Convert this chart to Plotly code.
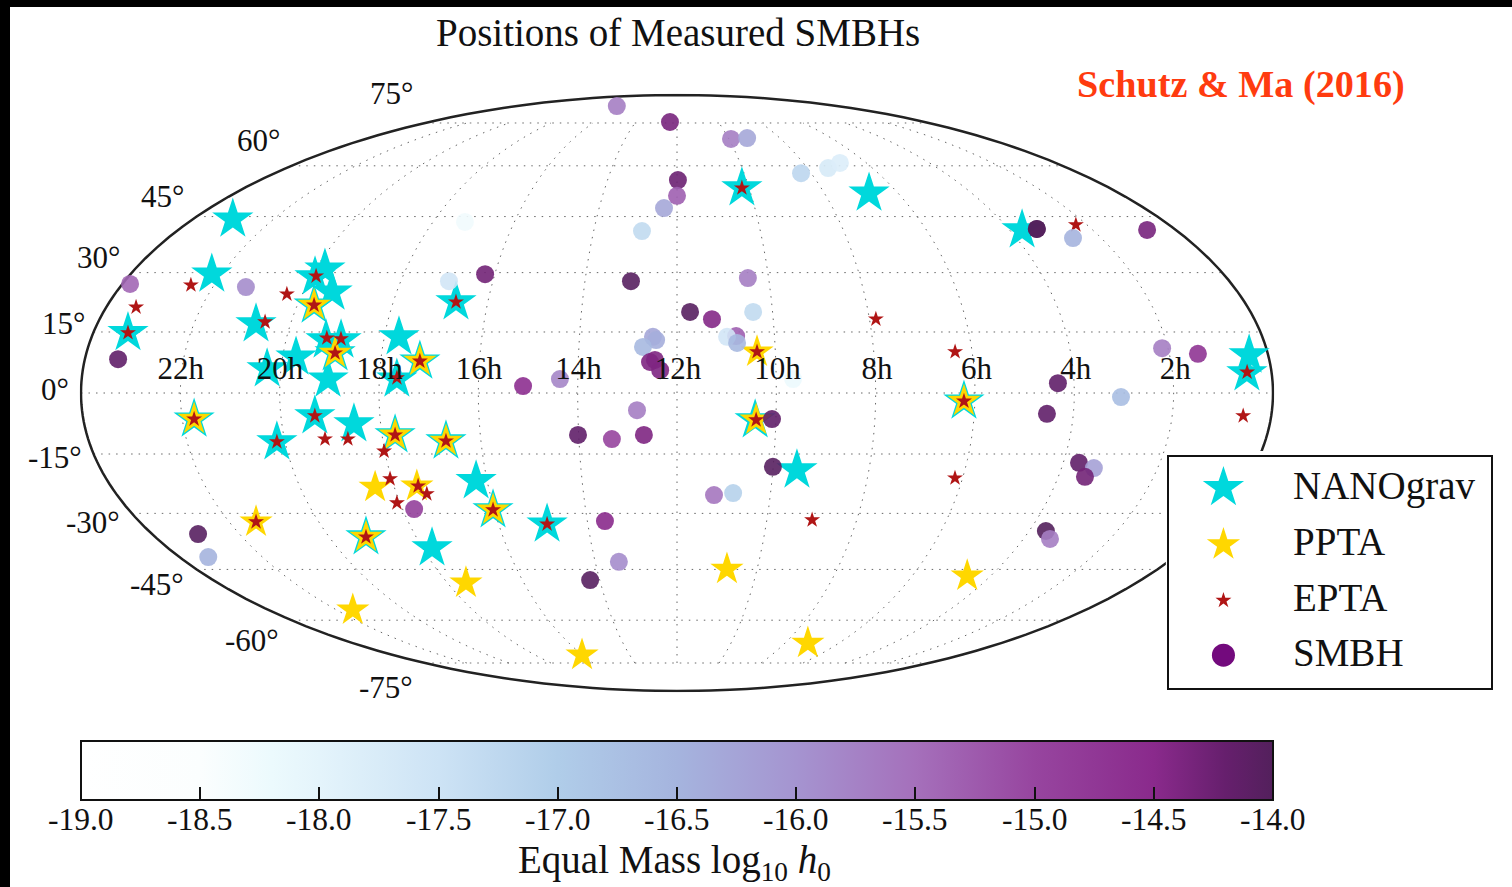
import plotly.graph_objects as go

# ---- catalogue positions (longitude = 15 * (12h - RA), latitude = dec), degrees ----
nano_lon = [-165.2,-153.2,-169.3,-130.7,-124.2,-115.9,-118.7,-116.9,-110.7,-114.7,-107.7,-103.1,
            -104.2,-105.5,-109.7,-98.1,-85.5,-78.1,-84.7,-70.1,-146.4,-122.5,-86.0,-70.7,
            -107.3,-86.6,-63.5,-60.4,-43.7,23.7,37.5,27.0,78.2,124.5,86.7,174.2,172.5]
nano_lat = [44.3,29.6,14.8,17.0,5.9,8.8,28.9,30.9,25.0,21.7,13.0,13.0,
            9.8,3.4,-5.6,-7.6,13.8,7.8,3.4,22.5,-6.4,-12.0,-10.3,-11.8,
            -36.2,-39.1,-21.7,-29.1,-32.8,-6.6,-19.0,53.2,51.7,41.3,-2.0,9.3,4.9]

ppta_lon = [-146.4,-114.7,-104.2,-78.1,-86.0,-70.7,-96.1,-82.7,-141.0,-107.3,-142.8,-82.7,
            -60.4,-60.2,18.7,72.7,24.0,24.4,86.7,111.0]
ppta_lat = [-6.4,21.7,9.8,7.8,-10.3,-11.8,-23.3,-23.0,-32.2,-36.2,-56.8,-48.8,
            -29.1,-71.9,-44.9,-67.6,-6.6,10.1,-2.0,-46.8]

epta_lon = [-157.5,-170.6,-124.9,-118.5,-114.7,-128.1,-169.3,-107.6,-103.2,-104.2,-78.1,-84.7,
            -109.7,-70.1,-146.4,-122.5,-107.6,-100.6,-86.0,-70.7,-90.2,-90.5,-82.3,-80.3,
            -91.0,-141.0,-107.3,-60.4,-43.7,24.0,27.0,24.4,62.0,145.9,84.8,86.7,
            172.6,171.5,87.6,45.1]
epta_lat = [26.8,21.2,24.5,29.1,21.7,17.5,14.8,13.5,13.3,9.8,7.8,3.7,
            -5.6,22.5,-6.4,-12.0,-11.3,-11.3,-10.3,-11.8,-14.3,-21.2,-23.0,-25.0,
            -27.3,-32.2,-36.2,-29.1,-32.8,-6.6,53.2,10.1,18.2,42.7,10.1,-2.0,
            5.1,-5.6,-21.0,-31.7]

smbh_lon = [-177.5,-139.3,-169.9,-74.3,-63.2,-46.5,-164.2,-169.6,-86.2,-30.2,-19.9,-10.1,
            -12.1,-24.1,-21.3,-33.7,11.9,18.0,28.8,29.9,-67.3,-5.1,31.2,40.9,
            55.5,69.6,77.4,0.4,0.0,-5.0,-12.6,-78.2,-15.0,23.2,4.1,10.9,
            23.9,18.2,15.4,18.4,35.1,-7.4,-6.4,-10.4,-8.2,-6.7,-5.1,-35.4,
            130.2,130.2,140.0,169.6,148.2,158.7,115.1,134.1,112.0,124.9,130.1,128.4,
            125.7,129.2]
smbh_lat = [27.1,26.3,8.3,27.8,29.6,1.7,-35.4,-41.6,-28.9,-10.3,-11.3,-10.3,
            -4.2,-32.0,-42.9,-48.0,-25.3,-24.8,-6.4,-18.2,82.5,75.4,69.0,69.3,
            57.7,59.3,60.9,55.6,50.9,47.4,41.0,43.5,27.8,28.6,20.0,18.2,
            20.0,14.0,13.8,12.3,3.4,13.8,13.0,11.3,7.6,8.1,5.6,3.4,
            41.6,41.6,39.1,41.3,11.0,9.6,2.4,-1.0,-5.1,-17.2,-18.5,-20.7,
            -34.6,-36.7]
smbh_h0 = [-15.4,-15.9,-14.15,-17.6,-14.3,-14.6,-14.05,-16.5,-14.9,-14.15,-15.0,-14.4,
           -15.7,-14.5,-15.9,-14.05,-15.6,-17.1,-14.15,-14.05,-15.7,-14.35,-15.7,-16.3,
           -17.2,-17.7,-17.8,-14.25,-15.3,-16.3,-17.3,-18.3,-14.05,-15.7,-14.05,-14.45,
           -17.3,-15.3,-17.6,-16.6,-18.2,-16.3,-16.4,-16.6,-14.4,-14.4,-14.4,-15.8,
           -14.0,-14.0,-16.5,-14.35,-15.7,-14.7,-14.15,-16.7,-14.15,-14.15,-16.2,-14.3,
           -14.0,-15.7]

# ---- labels ----
ra_hours = [22,20,18,16,14,12,10,8,6,4,2]
ra_labels = [f"{h}h" for h in ra_hours]
dec_labels = ["75°","60°","45°","30°","15°","0°","-15°","-30°","-45°","-60°","-75°"]
dec_label_x = [391,258,162,98,63,55,55,93,157,252,386]
dec_label_y = [93,140,196,258,323,389,457,522,584,640,687]
cbar_ticks = [-19.0,-18.5,-18.0,-17.5,-17.0,-16.5,-16.0,-15.5,-15.0,-14.5,-14.0]
cbar_labels = [f"{t:.1f}" for t in cbar_ticks]
cbar_title = "Equal Mass log<sub>10</sub> <i>h</i><sub>0</sub>"
legend_names = ["NANOgrav","PPTA","EPTA","SMBH"]
legend_text_y = [486,541,597,652]

W, H = 1512, 887
SERIF = "Liberation Serif"
CYAN, GOLD, RED, PURPLE = "#00d8dc", "#ffd700", "#b01515", "#730a7d"
SCALE = [[0,"#ffffff"],[0.1,"#fbfefe"],[0.16,"#ecfafd"],[0.2,"#e4f4fb"],[0.3,"#cde3f5"],[0.4,"#b0cde9"],
         [0.5,"#a5b4de"],[0.6,"#a594d0"],[0.7,"#a570bb"],[0.8,"#97459f"],[0.9,"#8a2a8c"],[0.96,"#661f6d"],[1,"#53205c"]]

def px(x): return x / W
def py(y): return 1 - y / H

fig = go.Figure()

# meridians stop at +/-75 degrees, as in the original
mer_lon, mer_lat = [], []
for h in ra_hours:
    lon = (12 - h) * 15
    mer_lon += [lon, lon, lon, None]
    mer_lat += [-75, 0, 75, None]
fig.add_trace(go.Scattergeo(lon=mer_lon, lat=mer_lat, mode="lines", geo="geo", hoverinfo="skip",
                            line=dict(color="#666666", width=1, dash="1.5px,6px"), showlegend=False))

fig.add_trace(go.Scattergeo(lon=nano_lon, lat=nano_lat, mode="markers", geo="geo", name="NANOgrav",
                            marker=dict(symbol="star", size=31, color=CYAN), showlegend=False))
fig.add_trace(go.Scattergeo(lon=ppta_lon, lat=ppta_lat, mode="markers", geo="geo", name="PPTA",
                            marker=dict(symbol="star", size=25, color=GOLD), showlegend=False))
fig.add_trace(go.Scattergeo(lon=epta_lon, lat=epta_lat, mode="markers", geo="geo", name="EPTA",
                            marker=dict(symbol="star", size=12, color=RED), showlegend=False))
fig.add_trace(go.Scattergeo(lon=smbh_lon, lat=smbh_lat, mode="markers", geo="geo", name="SMBH", showlegend=False,
    marker=dict(symbol="circle", size=18, opacity=0.9, color=smbh_h0, cmin=-19, cmax=-14, colorscale=SCALE,
        colorbar=dict(orientation="h", thicknessmode="pixels", thickness=59, lenmode="pixels", len=1192,
            x=px(677), xanchor="center", xpad=0, y=py(741), yanchor="top", ypad=0,
            outlinecolor="#111111", outlinewidth=2, bgcolor="rgba(0,0,0,0)", borderwidth=0,
            ticks="inside", ticklen=14, tickwidth=1.5, tickcolor="#111111",
            tickmode="array", tickvals=cbar_ticks, showticklabels=False))))

fig.add_trace(go.Scattergeo(lon=[(12 - h) * 15 * 1.004 + 0.3 for h in ra_hours], lat=[5.3] * len(ra_hours), text=ra_labels,
                            mode="text", geo="geo", hoverinfo="skip", showlegend=False, textposition="middle center",
                            textfont=dict(family=SERIF, size=31, color="#111111")))

# legend panel: its own small map, so that the swatches can be as large as the original's
legend_lon = -52.5
legend_lat = [41.75, 13.75, -13.75, -40.75]
legend_marks = [("star", 31, CYAN), ("star", 25, GOLD), ("star", 12, RED), ("circle", 23, PURPLE)]
for name, lat, (sym, size, col) in zip(legend_names, legend_lat, legend_marks):
    fig.add_trace(go.Scattergeo(lon=[legend_lon], lat=[lat], mode="markers", geo="geo2", name=name, showlegend=False,
                                hoverinfo="skip", marker=dict(symbol=sym, size=size, color=col)))

annotations = [
    dict(text="Positions of Measured SMBHs", x=px(678), y=py(33), font=dict(family=SERIF, size=39, color="#111111")),
    dict(text="<b>Schutz &amp; Ma (2016)</b>", x=px(1241), y=py(85), font=dict(family=SERIF, size=38.2, color="#ff3b0f")),
    dict(text=cbar_title, x=px(674), y=py(862), font=dict(family=SERIF, size=39, color="#111111")),
]
for t, x, y in zip(dec_labels, dec_label_x, dec_label_y):
    annotations.append(dict(text=t, x=px(x), y=py(y), font=dict(family=SERIF, size=31, color="#111111")))
for t, y in zip(legend_names, legend_text_y):
    annotations.append(dict(text=t, x=px(1291), y=py(y), xanchor="left", font=dict(family=SERIF, size=39, color="#111111")))
for v, t in zip(cbar_ticks, cbar_labels):
    annotations.append(dict(text=t, x=px(81 + (v + 19) / 5 * 1192), y=py(819.5), font=dict(family=SERIF, size=31.5, color="#111111")))
for a in annotations:
    a.update(xref="paper", yref="paper", showarrow=False)
    a.setdefault("xanchor", "center")
    a.setdefault("yanchor", "middle")

GRID = dict(showgrid=True, gridcolor="#666666", gridwidth=1, griddash="1.5px,6px", dtick=15, tick0=0)
fig.update_layout(
    width=W, height=H, margin=dict(l=0, r=0, t=0, b=0, autoexpand=False), paper_bgcolor="white", plot_bgcolor="white",
    showlegend=False, annotations=annotations,
    geo=dict(domain=dict(x=[px(81), px(1273)], y=[py(691), py(95)]),
             projection=dict(type="mollweide"), bgcolor="rgba(0,0,0,0)",
             showframe=True, framecolor="#222222", framewidth=2.5,
             showland=False, showocean=False, showcoastlines=False, showcountries=False, showlakes=False, showrivers=False,
             lataxis=GRID, lonaxis=dict(showgrid=False)),
    geo2=dict(domain=dict(x=[px(1163), px(1497)], y=[py(694), py(451)]),
              projection=dict(type="equirectangular"), bgcolor="white",
              showframe=False, showland=False, showocean=False, showcoastlines=False, showcountries=False,
              showlakes=False, showrivers=False,
              lonaxis=dict(range=[-81, 81], showgrid=False), lataxis=dict(range=[-58.25, 58.25], showgrid=False)),
    shapes=[
        dict(type="rect", xref="paper", yref="paper", x0=px(1168), x1=px(1492), y0=py(689), y1=py(456),
             line=dict(color="#111111", width=2), fillcolor="rgba(0,0,0,0)", layer="above"),
        dict(type="rect", xref="paper", yref="paper", x0=0, x1=1, y0=py(7), y1=1,
             line=dict(width=0), fillcolor="black", layer="above"),
        dict(type="rect", xref="paper", yref="paper", x0=0, x1=px(10), y0=0, y1=1,
             line=dict(width=0), fillcolor="black", layer="above"),
    ],
)

fig.write_html("out.html", config={"displayModeBar": False},
               post_script="document.body.style.margin='0';document.body.style.overflow='hidden';")
